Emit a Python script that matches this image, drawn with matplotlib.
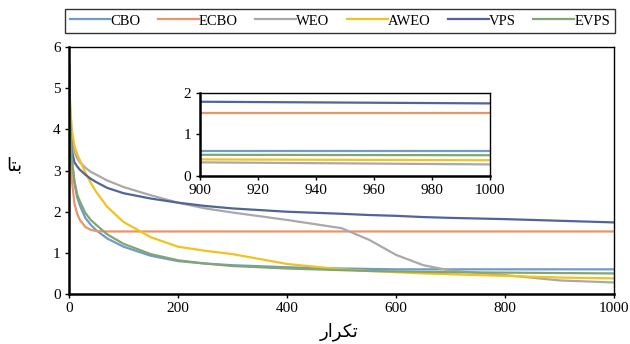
import matplotlib
matplotlib.use("Agg")
import matplotlib.pyplot as plt

plt.rcParams['font.family'] = ['Liberation Serif', 'DejaVu Sans']

# iterations sampled along the convergence curves
iters = [0, 2, 5, 10, 15, 20, 30, 40, 50, 70, 100, 150, 200, 250, 300, 400,
         500, 550, 600, 650, 700, 800, 900, 1000]

cbo = [5.6, 4.2, 3.3, 2.7, 2.35, 2.15, 1.85, 1.68, 1.55, 1.35, 1.15, 0.93, 0.8,
       0.74, 0.7, 0.65, 0.62, 0.61, 0.6, 0.6, 0.6, 0.6, 0.6, 0.6]
ecbo = [5.6, 3.8, 2.8, 2.2, 1.95, 1.8, 1.63, 1.56, 1.53, 1.52, 1.52, 1.52, 1.52,
        1.52, 1.52, 1.52, 1.52, 1.52, 1.52, 1.52, 1.52, 1.52, 1.52, 1.52]
weo = [5.6, 4.6, 3.9, 3.45, 3.3, 3.2, 3.07, 2.97, 2.9, 2.76, 2.6, 2.4, 2.22,
       2.08, 1.98, 1.8, 1.6, 1.32, 0.95, 0.7, 0.57, 0.46, 0.33, 0.28]
aweo = [5.6, 4.6, 4.0, 3.6, 3.4, 3.25, 2.95, 2.7, 2.48, 2.12, 1.75, 1.38, 1.15,
        1.05, 0.97, 0.73, 0.6, 0.56, 0.53, 0.5, 0.48, 0.44, 0.4, 0.38]
vps = [5.6, 4.1, 3.5, 3.2, 3.1, 3.02, 2.9, 2.8, 2.72, 2.58, 2.45, 2.32, 2.22,
       2.14, 2.08, 2.0, 1.95, 1.92, 1.9, 1.87, 1.85, 1.82, 1.78, 1.74]
evps = [5.6, 4.2, 3.3, 2.75, 2.42, 2.25, 1.97, 1.8, 1.68, 1.45, 1.22, 0.97, 0.82,
        0.74, 0.68, 0.62, 0.58, 0.56, 0.55, 0.54, 0.53, 0.52, 0.51, 0.5]

names = ["CBO", "ECBO", "WEO", "AWEO", "VPS", "EVPS"]
series = [cbo, ecbo, weo, aweo, vps, evps]
colors = ["#6E9BC8", "#E9956A", "#A9A9A9", "#F2C21E", "#4F6598", "#82A672"]

main_x_ticks = [0, 200, 400, 600, 800, 1000]
main_y_ticks = [0, 1, 2, 3, 4, 5, 6]
inset_x_ticks = [900, 920, 940, 960, 980, 1000]
inset_y_ticks = [0, 1, 2]

# Persian labels in presentation forms (visual order)
xlabel = "\uFEAD\uFE8D\uFEAE\uFB91\uFE97"   # تکرار
ylabel = "\uFE8E\uFE98\uFE91"               # بتا

fig = plt.figure(figsize=(6.3, 3.44), dpi=100)
ax = fig.add_axes([0.1095, 0.1453, 0.8655, 0.7177])

lines = []
for name, vals, c in zip(names, series, colors):
    ln, = ax.plot(iters, vals, color=c, lw=1.6, label=name)
    lines.append(ln)

ax.set_xlim(0, 1000)
ax.set_ylim(0, 6)
ax.set_xticks(main_x_ticks)
ax.set_yticks(main_y_ticks)
ax.tick_params(labelsize=11, length=3, width=1, pad=3)
for s in ["left", "bottom"]:
    ax.spines[s].set_linewidth(1.8)
for s in ["top", "right"]:
    ax.spines[s].set_linewidth(1.0)

fig.text(0.538, 0.035, xlabel, ha="center", va="center", fontsize=13,
         family=["DejaVu Sans"])
fig.text(0.022, 0.52, ylabel, ha="center", va="center", fontsize=13,
         family=["DejaVu Sans"])

# inset zoom on the last 100 iterations
ins = fig.add_axes([0.317, 0.488, 0.461, 0.243])
for vals, c in zip(series, colors):
    ins.plot(iters, vals, color=c, lw=1.6)
ins.set_xlim(900, 1000)
ins.set_ylim(0, 2)
ins.set_xticks(inset_x_ticks)
ins.set_yticks(inset_y_ticks)
ins.tick_params(labelsize=11, length=3, width=1, pad=3)
for s in ["left", "bottom"]:
    ins.spines[s].set_linewidth(1.8)
for s in ["top", "right"]:
    ins.spines[s].set_linewidth(1.0)

leg = fig.legend(handles=lines, loc="center", ncol=6,
                 bbox_to_anchor=(0.5395, 0.939), fontsize=10.5,
                 frameon=True, fancybox=False, handlelength=2.8,
                 handletextpad=0.0, columnspacing=1.2, borderpad=0.35,
                 borderaxespad=0)
leg.get_frame().set_edgecolor("black")
leg.get_frame().set_linewidth(1.0)

fig.savefig("out.png", dpi=100)
